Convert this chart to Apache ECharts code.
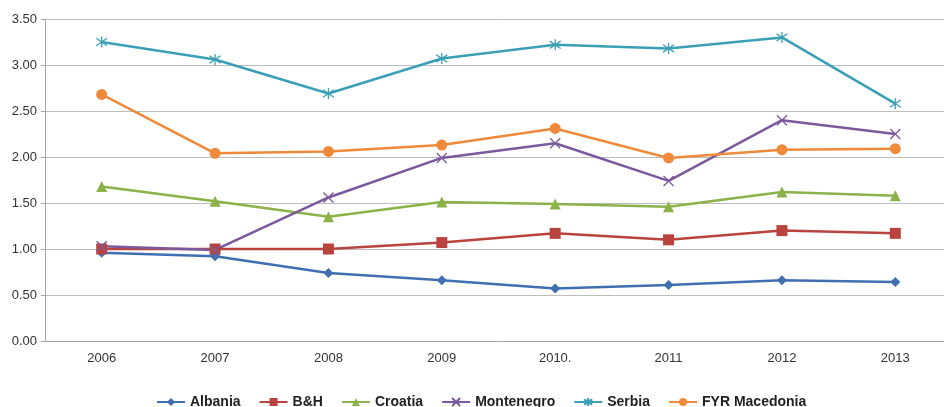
<!DOCTYPE html>
<html><head><meta charset="utf-8">
<script src="https://cdn.jsdelivr.net/npm/echarts@6/dist/echarts.min.js"></script>
<style>html,body{margin:0;padding:0;background:#fff;overflow:hidden;width:944px;height:407px}#c{width:952px;height:407px}</style>
</head><body><div id="c"></div>
<script>
const categories = ['2006','2007','2008','2009','2010.','2011','2012','2013'];
const albania = [0.96,0.92,0.74,0.66,0.57,0.61,0.66,0.64];
const bh = [1.00,1.00,1.00,1.07,1.17,1.10,1.20,1.17];
const croatia = [1.68,1.52,1.35,1.51,1.49,1.46,1.62,1.58];
const montenegro = [1.03,0.99,1.56,1.99,2.15,1.74,2.40,2.25];
const serbia = [3.25,3.06,2.69,3.07,3.22,3.18,3.30,2.58];
const macedonia = [2.68,2.04,2.06,2.13,2.31,1.99,2.08,2.09];
const yTicks = [0,0.5,1,1.5,2,2.5,3,3.5];

const FONT = '"Liberation Sans Narrow","Liberation Sans",Arial,sans-serif';
const X_PATH = 'path://M0,0L10,10M10,0L0,10';
const STAR_PATH = 'path://M0,1L10,9M10,1L0,9M5,-1L5,11';

function mk(name, data, color, symbol, size, custom) {
  return {
    name, type: 'line', data, symbol, symbolSize: size,
    lineStyle: { color, width: 2.5 },
    itemStyle: custom ? { color: 'transparent', borderColor: color, borderWidth: 1.3 } : { color, borderWidth: 0 },
    emphasis: { disabled: true },
    animation: false
  };
}

const chart = echarts.init(document.getElementById('c'));
chart.setOption({
  animation: false,
  grid: { left: 45, top: 19, right: 0, bottom: 66, containLabel: false },
  legend: {
    bottom: -7, left: 151, itemWidth: 28, itemHeight: 10, itemGap: 18,
    textStyle: { fontFamily: FONT, fontWeight: 'bold', fontSize: 14, color: '#222' },
    data: ['Albania','B&H','Croatia','Montenegro','Serbia','FYR Macedonia']
  },
  xAxis: {
    type: 'category', data: categories, boundaryGap: true,
    axisLine: { lineStyle: { color: '#a6a6a6', width: 1 } },
    axisTick: { lineStyle: { color: '#a6a6a6' }, length: 5 },
    axisLabel: { fontFamily: FONT, fontSize: 13, color: '#333', margin: 11 }
  },
  yAxis: {
    type: 'value', min: 0, max: 3.5, interval: 0.5,
    axisLine: { show: true, lineStyle: { color: '#a6a6a6' } },
    axisTick: { show: true, inside: false, length: 4, lineStyle: { color: '#a6a6a6' } },
    splitLine: { lineStyle: { color: '#bdbdbd', width: 1 } },
    axisLabel: { fontFamily: FONT, fontSize: 13, color: '#333', margin: 8,
      formatter: v => yTicks.includes(v) ? v.toFixed(2) : '' }
  },
  series: [
    mk('Albania', albania, '#3f6fb0', 'diamond', 10),
    mk('B&H', bh, '#b9433f', 'rect', 11),
    mk('Croatia', croatia, '#8cb24a', 'triangle', 11),
    mk('Montenegro', montenegro, '#7a5a9c', X_PATH, 10, true),
    mk('Serbia', serbia, '#3ba0b5', STAR_PATH, 11, true),
    mk('FYR Macedonia', macedonia, '#ef8a3a', 'circle', 11)
  ]
});
</script></body></html>
